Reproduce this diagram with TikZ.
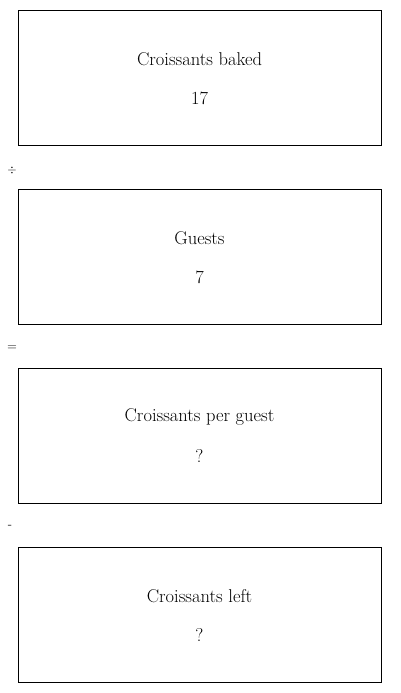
\documentclass[tikz,border=0pt]{standalone}
\usepackage{fontspec}
\begin{document}
\begin{tikzpicture}[x=1pt,y=-1pt,
  boxst/.style={draw=black,line width=0.9pt,fill=white},
  lbl/.style={font=\fontsize{18.5}{21}\selectfont,inner sep=0pt,anchor=center},
  op/.style={font=\fontsize{13}{14}\selectfont,inner sep=0pt,anchor=center}]
\useasboundingbox (0,0) rectangle (400,693);
\fill[white] (0,0) rectangle (400,693);
\draw[boxst] (18,10) rectangle (381,145);
\node[lbl] (t1) at (199.5,59) {Croissants baked};
\node[lbl] (v1) at (199.5,98) {17};
\node[op] (o1) at (12,170) {$\div$};
\draw[boxst] (18,189) rectangle (381,324);
\node[lbl] (t2) at (199.5,238) {Guests};
\node[lbl] (v2) at (199.5,277) {7};
\node[op] (o2) at (12,348) {=};
\draw[boxst] (18,368) rectangle (381,503);
\node[lbl] (t3) at (199.5,417) {Croissants per guest};
\node[lbl] (v3) at (199.5,456) {?};
\node[op] (o3) at (10,527) {-};
\draw[boxst] (18,547) rectangle (381,682);
\node[lbl] (t4) at (199.5,596) {Croissants left};
\node[lbl] (v4) at (199.5,635) {?};
\end{tikzpicture}
\end{document}
